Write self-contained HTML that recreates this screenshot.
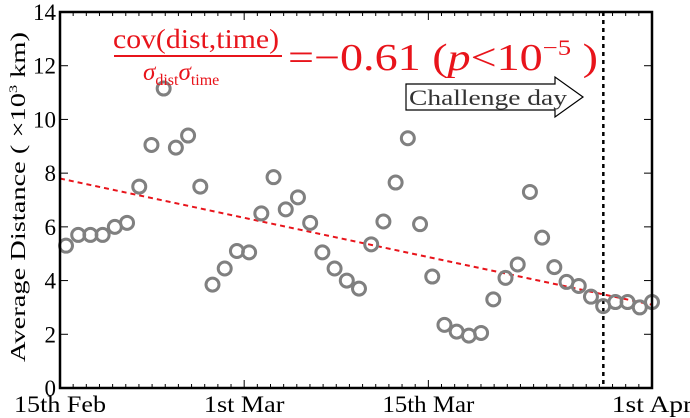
<!DOCTYPE html>
<html><head><meta charset="utf-8"><style>
body{margin:0;background:#fff;}
svg{display:block;font-family:"Liberation Serif","DejaVu Serif",serif;}
</style></head><body>
<svg id="chart" width="690" height="418">
<g id="plot"></g>
<text x="113" y="48" font-size="27" fill="#e8141b" textLength="166" lengthAdjust="spacingAndGlyphs">cov(dist,time)</text>
<line x1="114" y1="56" x2="282" y2="56" stroke="#e8141b" stroke-width="2"/>
<text x="143" y="80" font-size="25" fill="#e8141b" font-style="italic">σ<tspan font-size="16" font-style="normal" dy="5">dist</tspan><tspan dy="-5">σ</tspan><tspan font-size="16" font-style="normal" dy="5">time</tspan></text>
<text x="288" y="70" font-size="38" fill="#e8141b" textLength="310" lengthAdjust="spacingAndGlyphs">=−0.61 (<tspan font-style="italic">p</tspan>&lt;10<tspan font-size="22" dy="-15">−5</tspan><tspan dy="15"> )</tspan></text>
<g>
<path d="M406,84 L555,84 L555,77 L583,97 L555,117 L555,110 L406,110 Z" fill="#fff" stroke="#000" stroke-width="1.2"/>
<text x="409" y="105" font-size="22" fill="#333" textLength="158" lengthAdjust="spacingAndGlyphs">Challenge day</text>
</g>
<text transform="translate(25,197) rotate(-90)" text-anchor="middle" font-size="21" fill="#000" textLength="330" lengthAdjust="spacingAndGlyphs">Average Distance ( ×10<tspan font-size="12" dy="-8">3</tspan><tspan dy="8"> km)</tspan></text>
</svg>
<script>
const values=[5.3,5.7,5.7,5.7,6.0,6.15,7.5,9.05,11.15,8.95,9.4,7.5,3.85,4.45,5.1,5.05,6.5,7.85,6.65,7.1,6.15,5.05,4.45,4.0,3.7,5.35,6.2,7.65,9.3,6.1,4.15,2.35,2.1,1.95,2.05,3.3,4.1,4.6,7.3,5.6,4.5,3.95,3.8,3.4,3.05,3.2,3.2,3.0,3.2];
const yTicks=[0,2,4,6,8,10,12,14];
const xLabels=["15th Feb","1st Mar","15th Mar","1st Apr"];
const xLabelDays=[0,14,28,45];
const trend=[7.8,3.1];
const challengeDay=41.3;
const NS="http://www.w3.org/2000/svg";
const L=60,R=652,T=12,B=388,DAYS=45;
const xd=d=>L+d/DAYS*(R-L);
const xi=i=>66+i*(586/48);
const y=v=>B-v/14*(B-T);
const g=document.getElementById('plot');
function mk(t,a){const e=document.createElementNS(NS,t);for(const k in a)e.setAttribute(k,a[k]);g.appendChild(e);return e;}
let e=mk('line',{x1:L,y1:y(trend[0]),x2:R,y2:y(trend[1]),stroke:'#e8141b','stroke-width':2,'stroke-dasharray':'5,4'});


e=mk('line',{x1:xd(challengeDay),y1:T,x2:xd(challengeDay),y2:B,stroke:'#000','stroke-width':2.5,'stroke-dasharray':'4,4'});


values.forEach((v,i)=>{
 const c=mk('circle',{cx:xi(i),cy:y(v),r:6.5,fill:'none',stroke:'#808080','stroke-width':3});
 
 
});
e=mk('rect',{x:L,y:T,width:R-L,height:B-T,fill:'none',stroke:'#000','stroke-width':2.5});


for(let d=0;d<=DAYS;d++){
 const big=xLabelDays.includes(d);
 mk('line',{x1:xd(d),y1:B,x2:xd(d),y2:B-(big?8:4),stroke:'#000','stroke-width':1});
 mk('line',{x1:xd(d),y1:T,x2:xd(d),y2:T+(big?8:4),stroke:'#000','stroke-width':1});
}
yTicks.forEach(t=>{
 mk('line',{x1:L,y1:y(t),x2:L+8,y2:y(t),stroke:'#000'});
 mk('line',{x1:R,y1:y(t),x2:R-8,y2:y(t),stroke:'#000'});
 const tx=mk('text',{x:L-4,y:y(t)+8,'text-anchor':'end','font-size':23});
 tx.textContent=t;
 
 
});
xLabels.forEach((s,i)=>{
 const tx=mk('text',{x:xd(xLabelDays[i]),y:412,'text-anchor':'middle','font-size':23,textLength:s.length*11.5,lengthAdjust:'spacingAndGlyphs'});
 tx.textContent=s;
 
 
});
</script>
</body></html>
